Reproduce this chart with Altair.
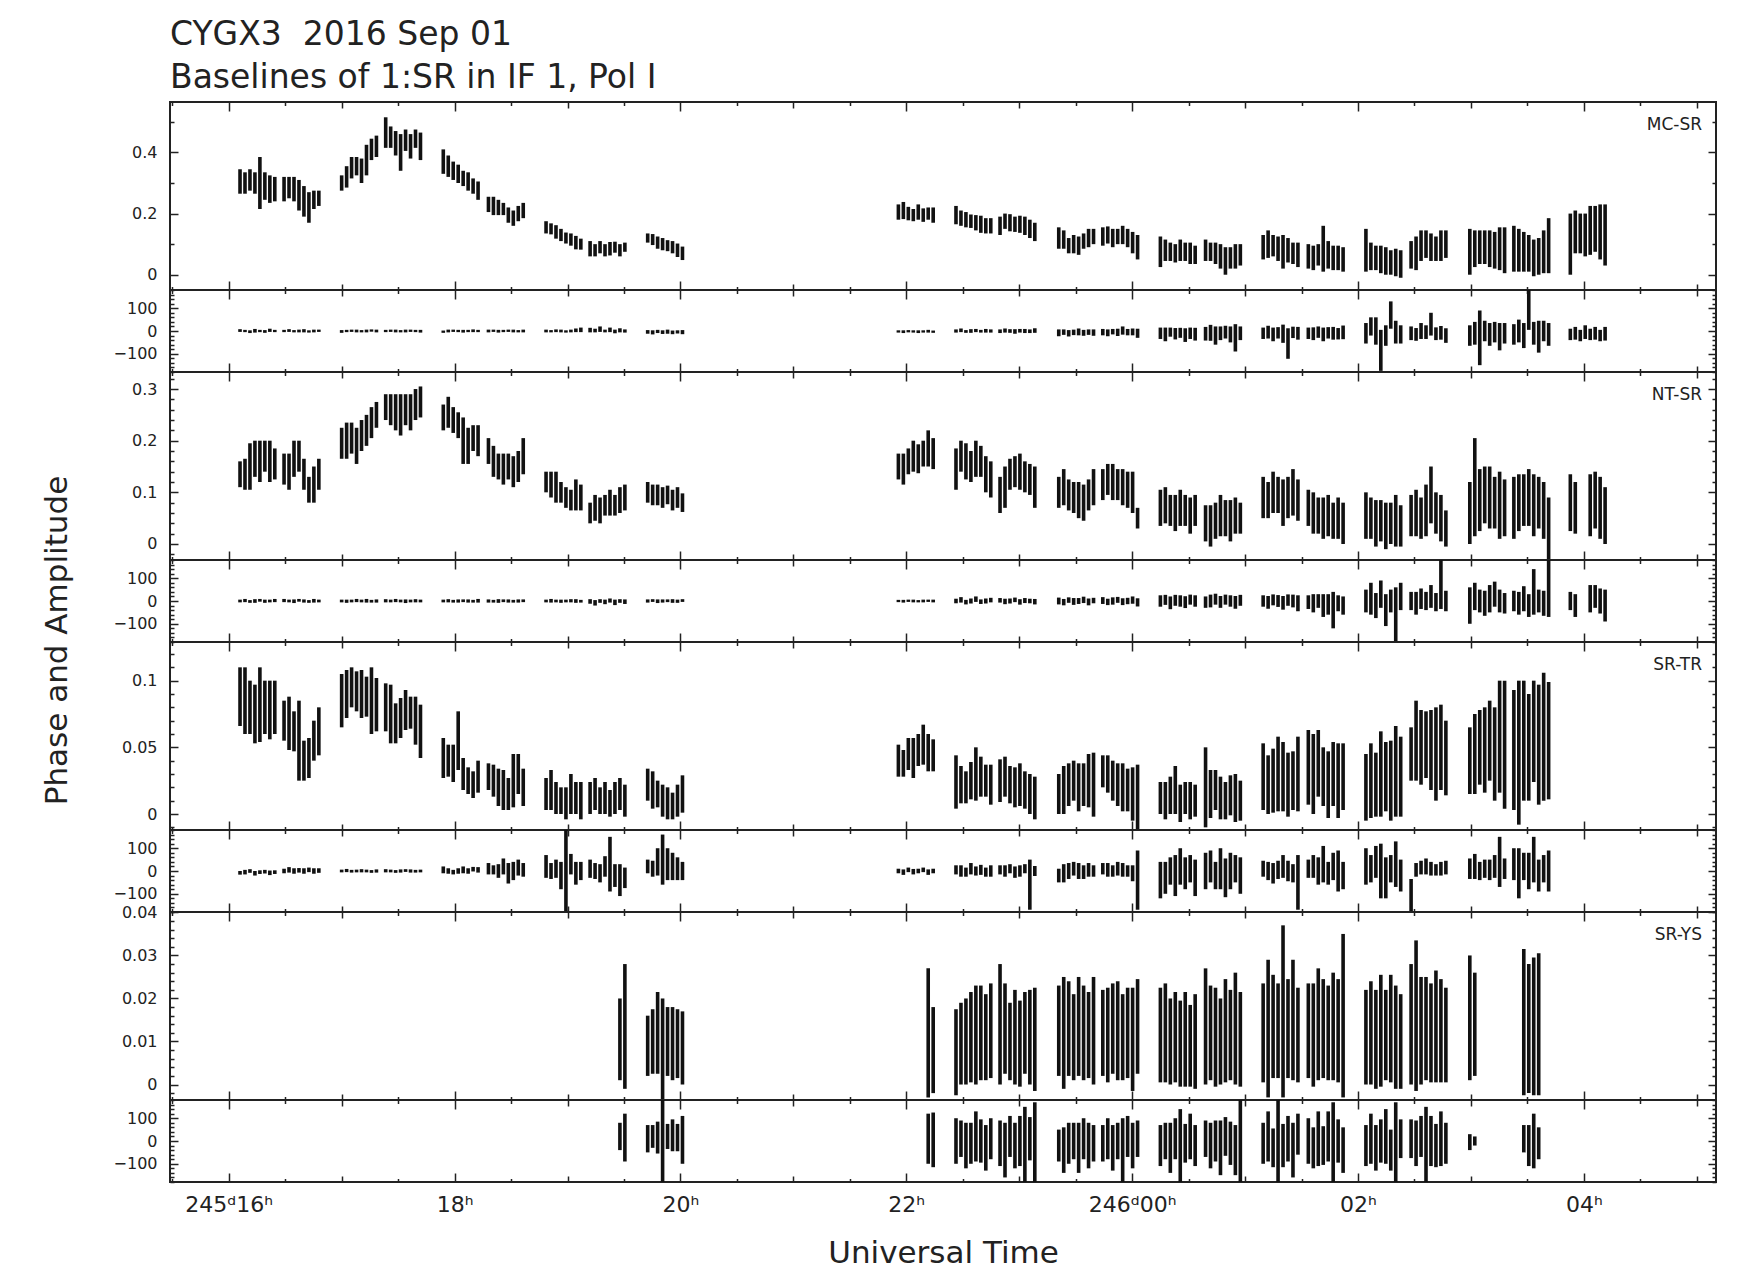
import math

import altair as alt
import pandas as pd

N = None  # sample flagged / not recorded

# ---------------------------------------------------------------------------
# Scan layout: start of every scan (hours UT counted from day 245, 00h) and
# spacing of the averaged samples inside a scan (8 samples per scan).
SCAN_START_H = [16.10, 16.49, 17.00, 17.39, 17.90, 18.30, 18.81, 19.20, 19.71,
                21.93, 22.44, 22.83, 23.35, 23.74, 24.25, 24.65, 25.16, 25.56,
                26.07, 26.47, 26.99, 27.38, 27.88]
SAMPLE_STEP_H = 0.044

X_DOMAIN = [15.48, 29.17]
TICK_HOURS = [16, 18, 20, 22, 24, 26, 28]
TICK_TEXT = ["245ᵈ16ʰ", "18ʰ", "20ʰ", "22ʰ", "246ᵈ00ʰ", "02ʰ", "04ʰ"]

# ---------------------------------------------------------------------------
# MC-SR  (amplitude in mJy, phase in degrees; value and half error bar)
MC_SR_AMP = [
    [305, 300, 310, 300, 300, 290, 280, 280], [280, 285, 280, 260, 240, 220, 245, 250],
    [300, 320, 350, 355, 340, 375, 410, 420], [465, 450, 430, 400, 440, 420, 445, 420],
    [370, 355, 340, 330, 315, 305, 290, 275], [230, 225, 220, 215, 195, 185, 200, 210],
    [155, 150, 140, 130, 120, 115, 105, 100], [85, 80, 90, 80, 85, 90, 80, 90],
    [120, 115, 105, 100, 95, 90, 80, 70], [205, 210, 200, 195, 205, 195, 200, 195],
    [195, 185, 180, 175, 170, 165, 160, 160], [160, 175, 170, 165, 165, 160, 150, 140],
    [120, 115, 95, 100, 95, 110, 120, 125], [125, 130, 120, 125, 130, 120, 105, 90],
    [75, 80, 75, 70, 80, 75, 70, 65], [80, 75, 70, 60, 45, 55, 60, 65],
    [90, 100, 95, 85, 75, 80, 70, 65], [60, 55, 65, 85, 65, 55, 55, 50],
    [80, 60, 55, 50, 45, 40, 40, 35], [65, 70, 95, 100, 90, 85, 95, 100],
    [75, 85, 90, 90, 85, 80, 85, 80], [85, 80, 75, 70, 55, 60, 75, 95],
    [100, 140, 135, 130, 145, 150, 140, 130]]
MC_SR_AMP_ERR = [
    [40, 35, 35, 35, 85, 45, 45, 40], [40, 35, 40, 50, 50, 50, 30, 25],
    [25, 35, 35, 30, 40, 50, 35, 35], [50, 35, 40, 60, 35, 40, 30, 45],
    [40, 35, 30, 30, 25, 30, 25, 30], [25, 30, 25, 20, 25, 25, 25, 25],
    [20, 18, 22, 20, 18, 20, 22, 18], [25, 20, 20, 20, 22, 18, 20, 15],
    [15, 18, 20, 20, 18, 20, 22, 22], [25, 28, 22, 20, 25, 22, 20, 25],
    [30, 25, 25, 22, 25, 28, 25, 25], [30, 25, 28, 25, 28, 30, 30, 30],
    [35, 30, 25, 30, 30, 25, 30, 25], [30, 28, 30, 25, 30, 30, 35, 40],
    [50, 35, 30, 30, 35, 30, 35, 30], [35, 30, 35, 40, 45, 35, 40, 35],
    [40, 45, 35, 40, 55, 40, 35, 40], [40, 40, 35, 75, 45, 40, 40, 40],
    [70, 45, 40, 45, 45, 40, 45, 45], [45, 55, 50, 45, 45, 40, 50, 45],
    [75, 60, 55, 55, 60, 60, 70, 75], [75, 70, 65, 60, 60, 60, 70, 90],
    [100, 70, 65, 70, 80, 75, 90, 100]]
MC_SR_PHS = [
    [2, 0, -3, 1, 0, -2, 3, 0], [0, 2, -1, 0, 1, -2, 0, 1], [-2, 0, 1, 0, -1, 0, 2, 0],
    [0, 1, 0, -1, 0, 1, 0, -1], [-3, 0, 1, 0, -1, 0, 1, 0], [0, 1, -1, 0, 1, 0, -1, 0],
    [0, -1, 1, 0, -2, 0, 3, 5], [4, 2, 8, 0, 5, -2, 3, 0], [-4, -6, -2, -5, -3, -6, -4, -5],
    [-2, -3, -1, -2, -3, -2, -1, -3], [0, 3, -2, 0, 2, -1, 1, 0], [-1, 2, 0, -2, 1, 0, -1, 2],
    [-8, -5, -10, -6, -4, -8, -5, -7], [-5, -8, -3, -6, 2, -5, -4, -10],
    [-10, -15, -5, -12, -8, -18, -10, -14], [-12, -8, -20, -10, -5, -15, -30, -10],
    [-10, -5, -15, -8, -12, -55, -6, -10], [-10, -12, -5, -15, -8, -10, -12, -6],
    [-10, 20, 0, -85, -20, 70, -5, -15], [-10, -15, 0, -5, 30, -12, -8, -20],
    [-20, -10, -30, 0, -15, -5, -25, -10], [-15, 0, -20, 95, -10, -25, 0, -15],
    [-15, -10, -20, -5, -15, -10, -20, -12]]
MC_SR_PHS_ERR = [
    [6, 5, 6, 8, 5, 6, 7, 5], [5, 6, 5, 6, 7, 5, 6, 5], [6, 5, 5, 6, 5, 6, 5, 6],
    [5, 5, 6, 5, 6, 5, 5, 6], [5, 6, 5, 5, 6, 5, 6, 5], [6, 5, 6, 5, 5, 6, 5, 6],
    [6, 5, 6, 6, 5, 6, 8, 10], [10, 8, 12, 6, 10, 8, 9, 7], [8, 9, 7, 8, 9, 8, 7, 9],
    [5, 6, 5, 5, 6, 5, 6, 5], [7, 8, 6, 8, 7, 6, 8, 7], [8, 9, 8, 10, 8, 9, 8, 10],
    [15, 12, 14, 12, 15, 13, 12, 14], [14, 15, 12, 16, 18, 14, 15, 20],
    [25, 30, 20, 25, 22, 30, 25, 28], [30, 35, 40, 30, 28, 35, 60, 30],
    [25, 28, 30, 25, 40, 67, 25, 28], [25, 28, 25, 30, 25, 28, 25, 30],
    [45, 40, 60, 90, 45, 60, 50, 40], [30, 28, 35, 30, 50, 28, 30, 32],
    [45, 50, 120, 45, 50, 45, 60, 45], [45, 50, 55, 90, 50, 70, 45, 50],
    [25, 28, 25, 30, 25, 28, 25, 30]]

# NT-SR
NT_SR_AMP = [
    [135, 135, 150, 165, 160, 170, 160, 155], [145, 140, 165, 170, 135, 105, 115, 135],
    [195, 200, 205, 190, 210, 220, 235, 250], [265, 260, 255, 250, 260, 255, 270, 275],
    [245, 255, 240, 230, 200, 190, 205, 200], [180, 160, 150, 145, 150, 140, 150, 170],
    [120, 115, 110, 100, 90, 85, 95, 90], [60, 70, 65, 75, 80, 75, 85, 90],
    [100, 95, 95, 90, 95, 85, 90, 80], [150, 145, 160, 170, 165, 175, 185, 175],
    [145, 170, 160, 150, 165, 160, 135, 125], [95, 110, 135, 140, 140, 130, 125, 110],
    [100, 110, 95, 90, 85, 80, 95, 110], [115, 125, 120, 115, 110, 105, 100, 50],
    [70, 75, 65, 60, 70, 65, 55, 65], [40, 35, 45, 55, 50, 45, 55, 50],
    [90, 85, 100, 95, 80, 90, 100, 85], [70, 60, 55, 50, 55, 45, 50, 40],
    [55, 50, 40, 45, 35, 40, 45, 35], [55, 60, 50, 65, 95, 60, 50, 30],
    [60, 110, 85, 95, 90, 80, 75, 70], [70, 80, 85, 90, 75, 80, 65, 30],
    [80, 70, N, N, 75, 85, 70, 55]]
NT_SR_AMP_ERR = [
    [25, 30, 45, 35, 40, 30, 40, 30], [30, 35, 35, 30, 30, 25, 35, 30],
    [30, 35, 30, 35, 30, 30, 30, 25], [25, 30, 35, 40, 30, 35, 30, 30],
    [25, 30, 25, 25, 45, 35, 25, 30], [25, 30, 25, 30, 25, 30, 30, 35],
    [20, 25, 30, 20, 20, 20, 30, 25], [20, 25, 25, 20, 25, 20, 25, 25],
    [20, 20, 20, 20, 18, 20, 20, 18], [25, 30, 25, 30, 28, 25, 35, 30],
    [40, 30, 35, 30, 35, 30, 35, 35], [35, 40, 30, 30, 35, 30, 30, 40],
    [30, 35, 30, 30, 35, 35, 30, 35], [30, 30, 35, 30, 35, 35, 40, 20],
    [35, 35, 30, 35, 35, 30, 35, 30], [35, 40, 35, 40, 35, 40, 35, 30],
    [40, 35, 40, 35, 45, 40, 45, 40], [35, 40, 35, 40, 40, 35, 40, 40],
    [45, 40, 45, 40, 45, 40, 50, 40], [40, 45, 40, 50, 55, 40, 45, 35],
    [60, 95, 60, 55, 60, 50, 65, 55], [60, 55, 50, 55, 60, 50, 55, 60],
    [55, 50, N, N, 60, 55, 60, 55]]
NT_SR_PHS = [
    [0, 2, -2, 0, 3, -1, 0, 2], [2, 0, -1, 3, 0, -2, 1, 0], [0, -1, 0, 2, 0, 1, -1, 0],
    [1, 0, 2, 0, -1, 0, 1, 0], [0, 1, -1, 0, 1, 0, -1, 1], [0, -1, 0, 1, 0, -1, 0, 1],
    [0, 1, 0, -1, 0, 1, 0, -1], [-2, -8, 0, -4, 2, -6, 0, -3], [0, 2, -1, 0, 1, 0, -1, 2],
    [0, -1, 1, 0, -1, 0, 1, 0], [0, 5, -5, 0, 8, -3, 0, 4], [3, -2, 0, 5, -4, 2, 0, -3],
    [0, -5, 4, -2, 0, 5, -4, 2], [2, -4, 0, 5, -3, 0, 4, -6], [0, 5, -8, 3, 0, -5, 6, 0],
    [-5, 0, 8, -4, 6, 0, -6, 3], [0, -6, 5, 0, -8, 4, 0, -10],
    [-5, -10, 0, -20, -15, -40, -10, -20], [0, 10, -20, 30, -40, 0, -60, 20],
    [0, -10, 10, 0, 20, -5, 75, 0], [-20, 20, 0, -10, 10, 30, 0, -10],
    [0, -10, 10, -20, 40, 0, -10, 60], [0, -20, N, N, 10, 20, 0, -20]]
NT_SR_PHS_ERR = [
    [6, 7, 6, 8, 6, 7, 6, 7], [7, 6, 8, 6, 7, 6, 8, 6], [6, 7, 6, 7, 6, 8, 6, 7],
    [7, 6, 7, 6, 8, 6, 7, 6], [6, 7, 6, 7, 6, 7, 6, 8], [7, 6, 8, 6, 7, 6, 7, 6],
    [6, 8, 6, 7, 6, 7, 8, 6], [10, 12, 8, 10, 9, 12, 8, 10], [7, 6, 8, 7, 6, 8, 7, 6],
    [5, 6, 5, 6, 5, 6, 5, 6], [10, 12, 10, 11, 12, 10, 11, 10],
    [10, 12, 11, 10, 12, 11, 10, 12], [15, 14, 12, 15, 13, 14, 15, 12],
    [15, 14, 16, 13, 15, 14, 16, 18], [25, 22, 28, 24, 25, 26, 22, 25],
    [25, 28, 24, 26, 22, 25, 28, 24], [25, 28, 24, 26, 30, 25, 28, 35],
    [30, 40, 30, 50, 45, 80, 35, 40], [50, 70, 55, 60, 70, 50, 120, 60],
    [40, 50, 45, 40, 50, 40, 110, 45], [80, 60, 50, 55, 60, 55, 50, 45],
    [45, 50, 55, 50, 100, 50, 55, 130], [40, 50, N, N, 60, 50, 55, 70]]

# SR-TR
SR_TR_AMP = [
    [88, 85, 80, 75, 82, 80, 78, 80], [70, 68, 62, 55, 40, 42, 55, 62],
    [85, 90, 95, 92, 90, 88, 85, 82], [80, 75, 68, 72, 78, 76, 70, 62],
    [42, 40, 38, 55, 30, 25, 22, 28], [28, 25, 20, 18, 15, 25, 30, 20],
    [15, 18, 12, 10, 8, 15, 12, 10], [12, 15, 10, 12, 8, 12, 15, 10],
    [22, 18, 15, 10, 8, 6, 10, 15], [40, 38, 45, 42, 48, 52, 46, 44],
    [24, 22, 20, 25, 30, 28, 25, 22], [25, 28, 22, 20, 22, 18, 15, 12],
    [15, 18, 22, 25, 20, 22, 25, 22], [32, 30, 25, 22, 20, 18, 15, 12],
    [12, 10, 14, 18, 8, 12, 10, 10], [20, 15, 18, 12, 10, 14, 12, 10],
    [28, 22, 25, 30, 28, 22, 25, 30], [35, 30, 38, 28, 22, 30, 25, 28],
    [20, 25, 22, 30, 28, 25, 32, 28], [45, 55, 50, 52, 48, 45, 50, 42],
    [40, 45, 50, 48, 55, 45, 58, 52], [48, 46, 55, 50, 62, 52, 58, 55],
    N]
SR_TR_AMP_ERR = [
    [22, 25, 20, 22, 28, 20, 22, 20], [15, 20, 15, 30, 15, 15, 15, 18],
    [20, 18, 15, 15, 18, 15, 25, 20], [18, 22, 15, 15, 15, 12, 18, 20],
    [15, 12, 14, 22, 12, 10, 10, 12], [10, 12, 14, 15, 12, 20, 15, 14],
    [12, 15, 12, 10, 12, 15, 12, 14], [12, 12, 10, 12, 10, 12, 12, 12],
    [12, 14, 10, 12, 12, 10, 12, 14], [12, 10, 12, 15, 12, 15, 14, 12],
    [20, 14, 12, 14, 20, 15, 12, 15], [16, 15, 14, 15, 16, 14, 15, 16],
    [15, 18, 16, 15, 18, 16, 20, 24], [12, 14, 15, 16, 18, 16, 20, 25],
    [12, 14, 14, 18, 14, 12, 14, 12], [30, 18, 15, 16, 14, 15, 18, 15],
    [25, 22, 24, 28, 26, 24, 22, 28], [28, 30, 25, 22, 25, 24, 28, 25],
    [25, 28, 24, 32, 26, 30, 34, 30], [20, 30, 28, 25, 30, 35, 32, 28],
    [25, 30, 28, 32, 30, 35, 42, 48], [45, 54, 45, 40, 38, 45, 48, 44],
    N]
SR_TR_PHS = [
    [-8, -5, 0, -10, -5, -3, -8, -5], [0, 5, 0, 3, 0, 5, 0, 2], [0, 2, -1, 0, 1, 0, -2, 0],
    [1, 0, -2, 0, 2, 0, -1, 0], [5, 0, -5, 0, 5, 0, 8, 5], [10, 5, 0, 20, -10, 0, 15, 5],
    [20, 0, 10, -20, 0, 30, -10, 0], [10, 0, -10, 20, 30, -20, -40, -30],
    [20, 10, 40, 50, 30, 20, 10, 0], [0, -5, 5, -3, 0, 5, -5, 0],
    [5, 0, -5, 10, 0, 5, -5, 0], [5, 0, 10, -5, 0, 10, -60, 0],
    [-20, -10, 0, 10, 0, -5, 5, 0], [10, 5, 0, 10, 5, 0, -10, -40],
    [-40, -30, 0, -20, 20, -10, 10, -30], [0, 20, -20, 10, -30, 0, 10, -20],
    [10, 0, -10, 5, 20, 0, -10, -50], [10, 20, 0, 30, -10, 20, 0, -20],
    [20, 10, 40, 0, -30, 10, 30, -20], [-110, 5, 15, 20, 10, 5, 10, 15],
    [10, 20, 0, 10, 5, 20, 40, 10], [30, -10, 20, 0, 50, -20, 10, 0],
    N]
SR_TR_PHS_ERR = [
    [8, 10, 8, 10, 8, 8, 10, 8], [10, 12, 12, 10, 12, 10, 12, 10], [6, 7, 6, 6, 7, 6, 6, 7],
    [7, 6, 6, 7, 6, 7, 6, 6], [15, 12, 10, 12, 15, 12, 10, 12],
    [25, 20, 30, 35, 45, 40, 35, 30], [50, 35, 40, 60, 180, 45, 50, 40],
    [40, 35, 40, 45, 120, 50, 70, 45], [30, 35, 60, 110, 70, 60, 50, 40],
    [10, 12, 10, 12, 10, 10, 12, 10], [20, 25, 20, 25, 20, 22, 20, 25],
    [20, 25, 20, 25, 25, 20, 110, 22], [30, 40, 35, 30, 35, 30, 30, 25],
    [25, 30, 25, 30, 30, 25, 35, 130], [80, 70, 60, 90, 80, 70, 60, 80],
    [80, 70, 60, 90, 85, 80, 60, 80], [35, 40, 45, 40, 50, 45, 40, 120],
    [40, 50, 60, 80, 50, 60, 90, 60], [80, 60, 70, 120, 90, 60, 100, 70],
    [75, 30, 30, 35, 30, 25, 30, 30], [45, 55, 40, 40, 45, 50, 110, 45],
    [70, 110, 60, 80, 100, 70, 60, 90], N]

# SR-YS  (amplitude in units of 0.1 mJy)
SR_YS_AMP = [
    N, N, N, N, N, N, N,
    [N, N, N, N, N, N, 105, 135], [90, 100, 120, 60, 100, 95, 95, 85],
    [N, N, N, N, N, N, 120, 80], [75, 95, 100, 110, 115, 120, 110, 125],
    [140, 130, 100, 110, 95, 120, 110, 105], [125, 120, 130, 110, 135, 120, 115, 125],
    [120, 115, 130, 125, 110, 120, 105, 135], [115, 120, 100, 110, 95, 105, 90, 100],
    [135, 120, 110, 100, 125, 115, 130, 105], [120, 130, 135, 125, 170, 130, 150, 115],
    [125, 115, 140, 130, 120, 135, 125, 160], [110, 120, 105, 125, 115, 130, 110, 100],
    [140, 160, 125, 130, 120, 135, 125, 115], [155, 140, N, N, N, N, N, N],
    [N, N, 145, 130, 135, 140, N, N], N]
SR_YS_AMP_ERR = [
    N, N, N, N, N, N, N,
    [N, N, N, N, N, N, 95, 145], [70, 75, 95, 140, 80, 85, 80, 85],
    [N, N, N, N, N, N, 150, 100], [100, 95, 100, 105, 115, 110, 100, 110],
    [140, 105, 90, 110, 100, 95, 110, 120], [105, 130, 110, 100, 115, 110, 100, 125],
    [100, 110, 105, 115, 100, 105, 120, 110], [110, 115, 100, 105, 100, 110, 95, 110],
    [135, 110, 115, 100, 120, 105, 130, 110], [115, 160, 120, 110, 200, 115, 140, 110],
    [110, 120, 130, 115, 110, 125, 120, 190], [110, 120, 115, 130, 105, 125, 120, 110],
    [140, 175, 125, 120, 115, 130, 120, 110], [145, 120, N, N, N, N, N, N],
    [N, N, 170, 150, 160, 165, N, N], N]
SR_YS_PHS = [
    N, N, N, N, N, N, N,
    [N, N, N, N, N, N, 20, 15], [10, 20, 15, 0, 20, 25, 15, 5],
    [N, N, N, N, N, N, 10, 5], [0, 10, -20, -10, 20, 0, -30, 10],
    [-10, -40, 20, -20, 0, -30, 10, -10], [-20, -40, -10, 0, -30, 10, -20, -10],
    [-10, 10, -30, 0, -40, 20, -20, 10], [-20, 0, -30, 10, -40, -10, 20, -20],
    [10, -20, 0, -30, 20, -10, -40, 0], [-10, 20, -30, 0, -20, 10, -40, 30],
    [0, -30, 10, -20, 20, -10, 0, -40], [-20, 10, -30, 0, 20, -40, -10, 10],
    [10, -10, 20, -30, 0, -20, 10, -10], [-5, 0, N, N, N, N, N, N],
    [N, N, 10, -20, 0, -10, N, N], N]
SR_YS_PHS_ERR = [
    N, N, N, N, N, N, N,
    [N, N, N, N, N, N, 60, 105], [60, 50, 70, 180, 55, 70, 60, 105],
    [N, N, N, N, N, N, 110, 120], [100, 80, 100, 90, 110, 95, 100, 90],
    [100, 120, 90, 100, 110, 180, 95, 180], [70, 100, 90, 80, 110, 90, 100, 80],
    [80, 90, 100, 80, 140, 90, 100, 80], [90, 80, 110, 90, 180, 85, 100, 90],
    [80, 100, 90, 120, 85, 95, 110, 180], [90, 110, 85, 180, 95, 100, 120, 90],
    [100, 90, 120, 85, 110, 180, 95, 100], [90, 110, 100, 95, 120, 90, 180, 85],
    [85, 100, 90, 180, 110, 95, 120, 90], [35, 20, N, N, N, N, N, N],
    [N, N, 60, 90, 120, 70, N, N], N]

BASELINES = [
    {"name": "MC-SR", "amp": MC_SR_AMP, "amp_err": MC_SR_AMP_ERR, "unit": 1e-3,
     "phs": MC_SR_PHS, "phs_err": MC_SR_PHS_ERR},
    {"name": "NT-SR", "amp": NT_SR_AMP, "amp_err": NT_SR_AMP_ERR, "unit": 1e-3,
     "phs": NT_SR_PHS, "phs_err": NT_SR_PHS_ERR},
    {"name": "SR-TR", "amp": SR_TR_AMP, "amp_err": SR_TR_AMP_ERR, "unit": 1e-3,
     "phs": SR_TR_PHS, "phs_err": SR_TR_PHS_ERR},
    {"name": "SR-YS", "amp": SR_YS_AMP, "amp_err": SR_YS_AMP_ERR, "unit": 1e-4,
     "phs": SR_YS_PHS, "phs_err": SR_YS_PHS_ERR},
]

# amplitude axis per baseline: domain (Jy), minor tick step, labelled step
AMP_AXES = {
    "MC-SR": ([-0.050, 0.565], 0.1, 0.2),
    "NT-SR": ([-0.031, 0.333], 0.02, 0.1),
    "SR-TR": ([-0.012, 0.129], 0.01, 0.05),
    "SR-YS": ([-0.0036, 0.0401], 0.002, 0.01),
}
PHS_AXIS = ([-180, 180], 20, 100)

PLOT_W = 1546
AMP_H = 188
PHS_H = 82
FONT = "DejaVu Sans"
INK = "#222222"


def error_bars(centres, errors, unit):
    rows = []
    for start, cs, es in zip(SCAN_START_H, centres, errors):
        if cs is None:
            continue
        for i, (c, e) in enumerate(zip(cs, es)):
            if c is None:
                continue
            rows.append({"t": start + i * SAMPLE_STEP_H,
                         "lo": (c - e) * unit, "hi": (c + e) * unit})
    return pd.DataFrame(rows)


def tick_values(domain, step):
    k0 = math.ceil(domain[0] / step - 1e-9)
    k1 = math.floor(domain[1] / step + 1e-9)
    return [round(k * step, 6) for k in range(k0, k1 + 1)]


def is_major(step):
    return f"abs(datum.value / {step} - round(datum.value / {step})) < 1e-6"


X_TICKS = [k / 2 for k in range(31, 59)]
X_TICK_SIZE = {"condition": [{"test": "datum.value % 2 === 0", "value": 9},
                             {"test": "datum.value % 1 === 0", "value": 6}],
               "value": 3.5}
X_LABEL_EXPR = "".join(f"datum.value === {h} ? '{s}' : "
                       for h, s in zip(TICK_HOURS, TICK_TEXT)) + "''"


def panel(df, axis_spec, height, name=None, y_title=None, bottom=False):
    domain, minor, major = axis_spec
    yvals = tick_values(domain, minor)
    y_tick_size = {"condition": {"test": is_major(major), "value": 8}, "value": 4}
    xs = alt.Scale(domain=X_DOMAIN, nice=False, zero=False)
    ys = alt.Scale(domain=domain, nice=False, zero=False)
    base = alt.Chart(df)

    if bottom:
        x_axis = alt.Axis(orient="bottom", values=TICK_HOURS, labelExpr=X_LABEL_EXPR,
                          ticks=False, tickSize=0, domain=False, labelPadding=12,
                          labelFontSize=22, labelFlush=False, labelOverlap=False,
                          title="Universal Time", titleFontSize=31, titlePadding=23)
    else:
        x_axis = None

    y_kw = dict(orient="left", values=yvals, format="~r",
                labelExpr=f"{is_major(major)} ? datum.label : ''",
                ticks=False, tickSize=0, domain=False, labelPadding=13,
                labelFlush=False, labelOverlap=False)
    if y_title:
        y_axis = alt.Axis(title=y_title, titleX=-103.5, titleY=80, titleAngle=-90,
                          titleAlign="center", titleBaseline="alphabetic",
                          titleFontSize=31, **y_kw)
    else:
        y_axis = alt.Axis(title=None, **y_kw)

    bars = base.mark_rule(color="#111111", strokeWidth=3.6, clip=True).encode(
        x=alt.X("t:Q", scale=xs, axis=x_axis),
        y=alt.Y("lo:Q", scale=ys, axis=y_axis),
        y2="hi:Q",
    )

    def frame_ticks(x_orient, y_orient):
        # invisible copy of the bars that carries inward-pointing frame ticks
        return base.mark_rule(strokeOpacity=0, clip=True).encode(
            x=alt.X("t:Q", scale=xs,
                    axis=alt.Axis(orient=x_orient, offset=-height, values=X_TICKS,
                                  labels=False, domain=False, tickSize=X_TICK_SIZE,
                                  tickColor=INK, tickWidth=1.5, title=None)),
            y=alt.Y("lo:Q", scale=ys,
                    axis=alt.Axis(orient=y_orient, offset=-PLOT_W, values=yvals,
                                  labels=False, domain=False, tickSize=y_tick_size,
                                  tickColor=INK, tickWidth=1.5, title=None)),
            y2="hi:Q",
        )

    layers = [bars, frame_ticks("top", "right"), frame_ticks("bottom", "left")]
    if name:
        tag = alt.Chart(pd.DataFrame({"baseline": [name]})).mark_text(
            align="right", baseline="middle", font=FONT, fontSize=17, color=INK
        ).encode(x=alt.value(PLOT_W - 14), y=alt.value(22.5), text="baseline:N")
        layers.append(tag)

    return alt.layer(*layers).resolve_axis(x="independent", y="independent").properties(
        width=PLOT_W, height=height)


panels = []
for i, bl in enumerate(BASELINES):
    amp_df = error_bars(bl["amp"], bl["amp_err"], bl["unit"])
    phs_df = error_bars(bl["phs"], bl["phs_err"], 1)
    panels.append(panel(amp_df, AMP_AXES[bl["name"]], AMP_H, name=bl["name"]))
    panels.append(panel(phs_df, PHS_AXIS, PHS_H,
                        y_title="Phase and Amplitude" if i == 1 else None,
                        bottom=(i == len(BASELINES) - 1)))

chart = alt.vconcat(*panels, spacing=0, bounds="flush").resolve_scale(
    x="independent", y="independent"
).properties(
    title=alt.TitleParams(["CYGX3\u00a0\u00a02016 Sep 01", "Baselines of 1:SR in IF 1, Pol I"],
                          anchor="start", frame="group", font=FONT, fontSize=33,
                          fontWeight="normal", color=INK, lineHeight=43, offset=5),
    padding={"left": 40, "top": 19, "right": 10, "bottom": 0},
    background="white",
).configure_view(
    stroke=INK, strokeWidth=2
).configure_axis(
    grid=False, labelFont=FONT, labelFontSize=16, labelColor=INK,
    titleFont=FONT, titleColor=INK, titleFontWeight="normal"
)

chart.save("out.html", embed_options={"renderer": "svg", "actions": False})
